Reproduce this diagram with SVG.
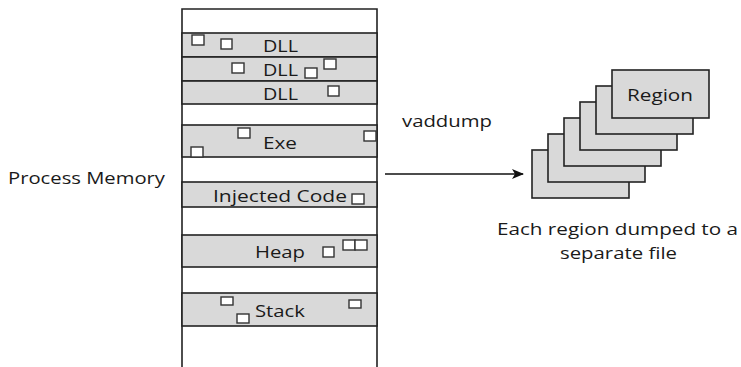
<svg xmlns="http://www.w3.org/2000/svg" width="741" height="367" viewBox="0 0 741 367">
<style>
text{font-family:"Open Sans",Lato,"DejaVu Sans",sans-serif;font-size:17px;fill:#1a1a1a}
.band{fill:#d9d9d9;stroke:#222;stroke-width:1.6}
.sq{fill:#fff;stroke:#333;stroke-width:1.4}
.reg{fill:#d9d9d9;stroke:#222;stroke-width:1.6}
.col{fill:#fff;stroke:#222;stroke-width:1.6}
</style>
<defs>
<marker id="ah" markerWidth="12" markerHeight="10" refX="11" refY="5" orient="auto" markerUnits="userSpaceOnUse">
<path d="M0,0 L12,5 L0,10 L3,5 Z" fill="#111"/>
</marker>
</defs>
<rect width="741" height="367" fill="#fff"/>
<g id="memory">
<path class="col" d="M182,368 V9 H377 V368"/>
</g>
<g id="dll1">
<rect class="band" x="182" y="33" width="195" height="24"/>
<rect class="sq" x="192" y="35" width="12" height="10"/>
<rect class="sq" x="221" y="39" width="11" height="10"/>
<text x="263" y="52" textLength="35" lengthAdjust="spacingAndGlyphs">DLL</text>
</g>
<g id="dll2">
<rect class="band" x="182" y="57" width="195" height="24"/>
<rect class="sq" x="232" y="63" width="12" height="10"/>
<text x="263" y="76" textLength="35" lengthAdjust="spacingAndGlyphs">DLL</text>
<rect class="sq" x="305" y="68" width="12" height="10"/>
<rect class="sq" x="324" y="59" width="12" height="10"/>
</g>
<g id="dll3">
<rect class="band" x="182" y="81" width="195" height="23"/>
<rect class="sq" x="328" y="86" width="11" height="10"/>
<text x="263" y="100" textLength="35" lengthAdjust="spacingAndGlyphs">DLL</text>
</g>
<g id="exe">
<rect class="band" x="182" y="125" width="195" height="32"/>
<rect class="sq" x="238" y="128" width="12" height="10"/>
<rect class="sq" x="364" y="131" width="12" height="10"/>
<rect class="sq" x="191" y="147" width="12" height="10"/>
<text x="263" y="149" textLength="34" lengthAdjust="spacingAndGlyphs">Exe</text>
</g>
<g id="injected">
<rect class="band" x="182" y="182" width="195" height="25"/>
<text x="213" y="202" textLength="134" lengthAdjust="spacingAndGlyphs">Injected Code</text>
<rect class="sq" x="352" y="194" width="12" height="10"/>
</g>
<g id="heap">
<rect class="band" x="182" y="235" width="195" height="32"/>
<text x="255" y="258" textLength="50" lengthAdjust="spacingAndGlyphs">Heap</text>
<rect class="sq" x="323" y="247" width="11" height="10"/>
<rect class="sq" x="343" y="240" width="12" height="10"/>
<rect class="sq" x="355" y="240" width="12" height="10"/>
</g>
<g id="stack">
<rect class="band" x="182" y="293" width="195" height="33"/>
<rect class="sq" x="221" y="297" width="12" height="8"/>
<rect class="sq" x="237" y="314" width="12" height="9"/>
<text x="255" y="317" textLength="50" lengthAdjust="spacingAndGlyphs">Stack</text>
<rect class="sq" x="349" y="300" width="12" height="8"/>
</g>
<g id="process-label">
<text x="8" y="184" textLength="157" lengthAdjust="spacingAndGlyphs">Process Memory</text>
</g>
<g id="regions">
<rect class="reg" x="532" y="150" width="97" height="48"/>
<rect class="reg" x="548" y="134" width="97" height="48"/>
<rect class="reg" x="564" y="118" width="97" height="48"/>
<rect class="reg" x="580" y="102" width="97" height="48"/>
<rect class="reg" x="596" y="86" width="97" height="48"/>
<rect class="reg" x="612" y="70" width="97" height="48"/>
<text x="627" y="101" textLength="66" lengthAdjust="spacingAndGlyphs">Region</text>
</g>
<g id="caption">
<text x="497" y="235" textLength="241" lengthAdjust="spacingAndGlyphs">Each region dumped to a</text>
<text x="560" y="259" textLength="117" lengthAdjust="spacingAndGlyphs">separate file</text>
</g>
<g id="connectors">
<line x1="385" y1="174" x2="523" y2="174" stroke="#111" stroke-width="1.6" marker-end="url(#ah)"/>
<text x="402" y="127" textLength="90" lengthAdjust="spacingAndGlyphs">vaddump</text>
</g>
</svg>
